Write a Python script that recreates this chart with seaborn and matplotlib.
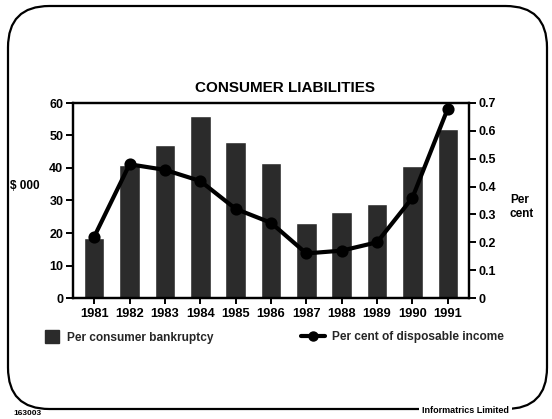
import matplotlib
matplotlib.use("Agg")
import matplotlib.pyplot as plt
import seaborn as sns
import pandas as pd
from matplotlib.patches import FancyBboxPatch, Patch
from matplotlib.lines import Line2D

years = ["1981", "1982", "1983", "1984", "1985", "1986", "1987", "1988", "1989", "1990", "1991"]
bankruptcy = [18.5, 41, 47, 56, 48, 41.5, 23, 26.5, 29, 40.5, 52]
pct_income = [0.22, 0.48, 0.46, 0.42, 0.32, 0.27, 0.16, 0.17, 0.20, 0.36, 0.68]
left_ticks = [0, 10, 20, 30, 40, 50, 60]
right_ticks = [0, 0.1, 0.2, 0.3, 0.4, 0.5, 0.6, 0.7]
right_labels = ["0", "0.1", "0.2", "0.3", "0.4", "0.5", "0.6", "0.7"]

df = pd.DataFrame({"year": years, "bankruptcy": bankruptcy, "pct": pct_income})

sns.set_theme(style="white")
plt.rcParams["font.family"] = ["Liberation Sans", "DejaVu Sans"]
plt.rcParams["font.weight"] = "bold"

fig = plt.figure(figsize=(5.52, 4.19), dpi=100)
ax = fig.add_axes([73 / 552, 1 - 298 / 419, (469 - 73) / 552, (298 - 103) / 419])

bar_color = "#2b2b2b"
sns.barplot(data=df, x="year", y="bankruptcy", color=bar_color, width=0.58,
            saturation=1, ax=ax)
ax.set_ylim(0, 60)
ax.set_yticks(left_ticks)
ax.set_xlim(-0.6, len(years) - 0.4)
ax.set_xlabel("")
ax.set_ylabel("")

ax2 = ax.twinx()
sns.pointplot(data=df, x="year", y="pct", color="black", markers="o",
              linewidth=3.0, markersize=6.5, ax=ax2)
ax2.set_ylim(0, 0.7)
ax2.set_yticks(right_ticks)
ax2.set_yticklabels(right_labels)
ax2.set_xlim(-0.6, len(years) - 0.4)
ax2.set_ylabel("")
ax2.set_xlabel("")

for a in (ax, ax2):
    for s in a.spines.values():
        s.set_color("black")
        s.set_linewidth(1.6)
        s.set_visible(True)

ax.tick_params(axis="y", which="both", direction="out", length=5, width=1.4,
               color="black", labelsize=9, pad=2, left=True)
ax.tick_params(axis="x", direction="out", length=4, width=1.4, color="black",
               labelsize=9.3, pad=3, bottom=True)
ax2.tick_params(axis="y", direction="out", length=5, width=1.4, color="black",
                labelsize=9, pad=2, right=True)
for lbl in ax.get_xticklabels() + ax.get_yticklabels() + ax2.get_yticklabels():
    lbl.set_fontweight("bold")
    lbl.set_color("black")

fig.text(285 / 552, 1 - 88 / 419, "CONSUMER LIABILITIES", ha="center", va="center",
         fontsize=11, fontweight="bold", color="black")
fig.text(10 / 552, 1 - 186 / 419, "$ 000", ha="left", va="center",
         fontsize=8.5, fontweight="bold", color="black")
fig.text(510 / 552, 1 - 207 / 419, "Per\ncent", ha="left", va="center",
         fontsize=8.5, fontweight="bold", color="black", linespacing=1.25)

legend_font = {"weight": "bold", "size": 8.6}
leg1 = fig.legend([Patch(facecolor=bar_color, edgecolor=bar_color)],
                  ["Per consumer bankruptcy"],
                  loc="center left", bbox_to_anchor=(40 / 552, 1 - 337 / 419),
                  frameon=False, prop=legend_font, handlelength=1.2,
                  handleheight=1.2, handletextpad=0.7, borderaxespad=0)
leg2 = fig.legend([Line2D([0], [0], color="black", lw=3.0, marker="o", markersize=6.5)],
                  ["Per cent of disposable income"],
                  loc="center left", bbox_to_anchor=(296 / 552, 1 - 337 / 419),
                  frameon=False, prop=legend_font, handlelength=2.0,
                  handletextpad=0.6, borderaxespad=0)

border = FancyBboxPatch((8 / 552, 1 - 409 / 419), (547 - 8) / 552, (409 - 6) / 419,
                        boxstyle="round,pad=0,rounding_size=0.075",
                        transform=fig.transFigure, fill=False, edgecolor="black",
                        linewidth=1.6, mutation_aspect=552 / 419)
fig.patches.append(border)

fig.text(13 / 552, 1 - 413 / 419, "163003", ha="left", va="center",
         fontsize=6, fontweight="bold", color="black")
fig.text(509 / 552, 1 - 410 / 419, "Informatrics Limited", ha="right", va="center",
         fontsize=6.5, fontweight="bold", color="black",
         bbox=dict(facecolor="white", edgecolor="none", pad=2))

fig.savefig("out.png", dpi=100)
